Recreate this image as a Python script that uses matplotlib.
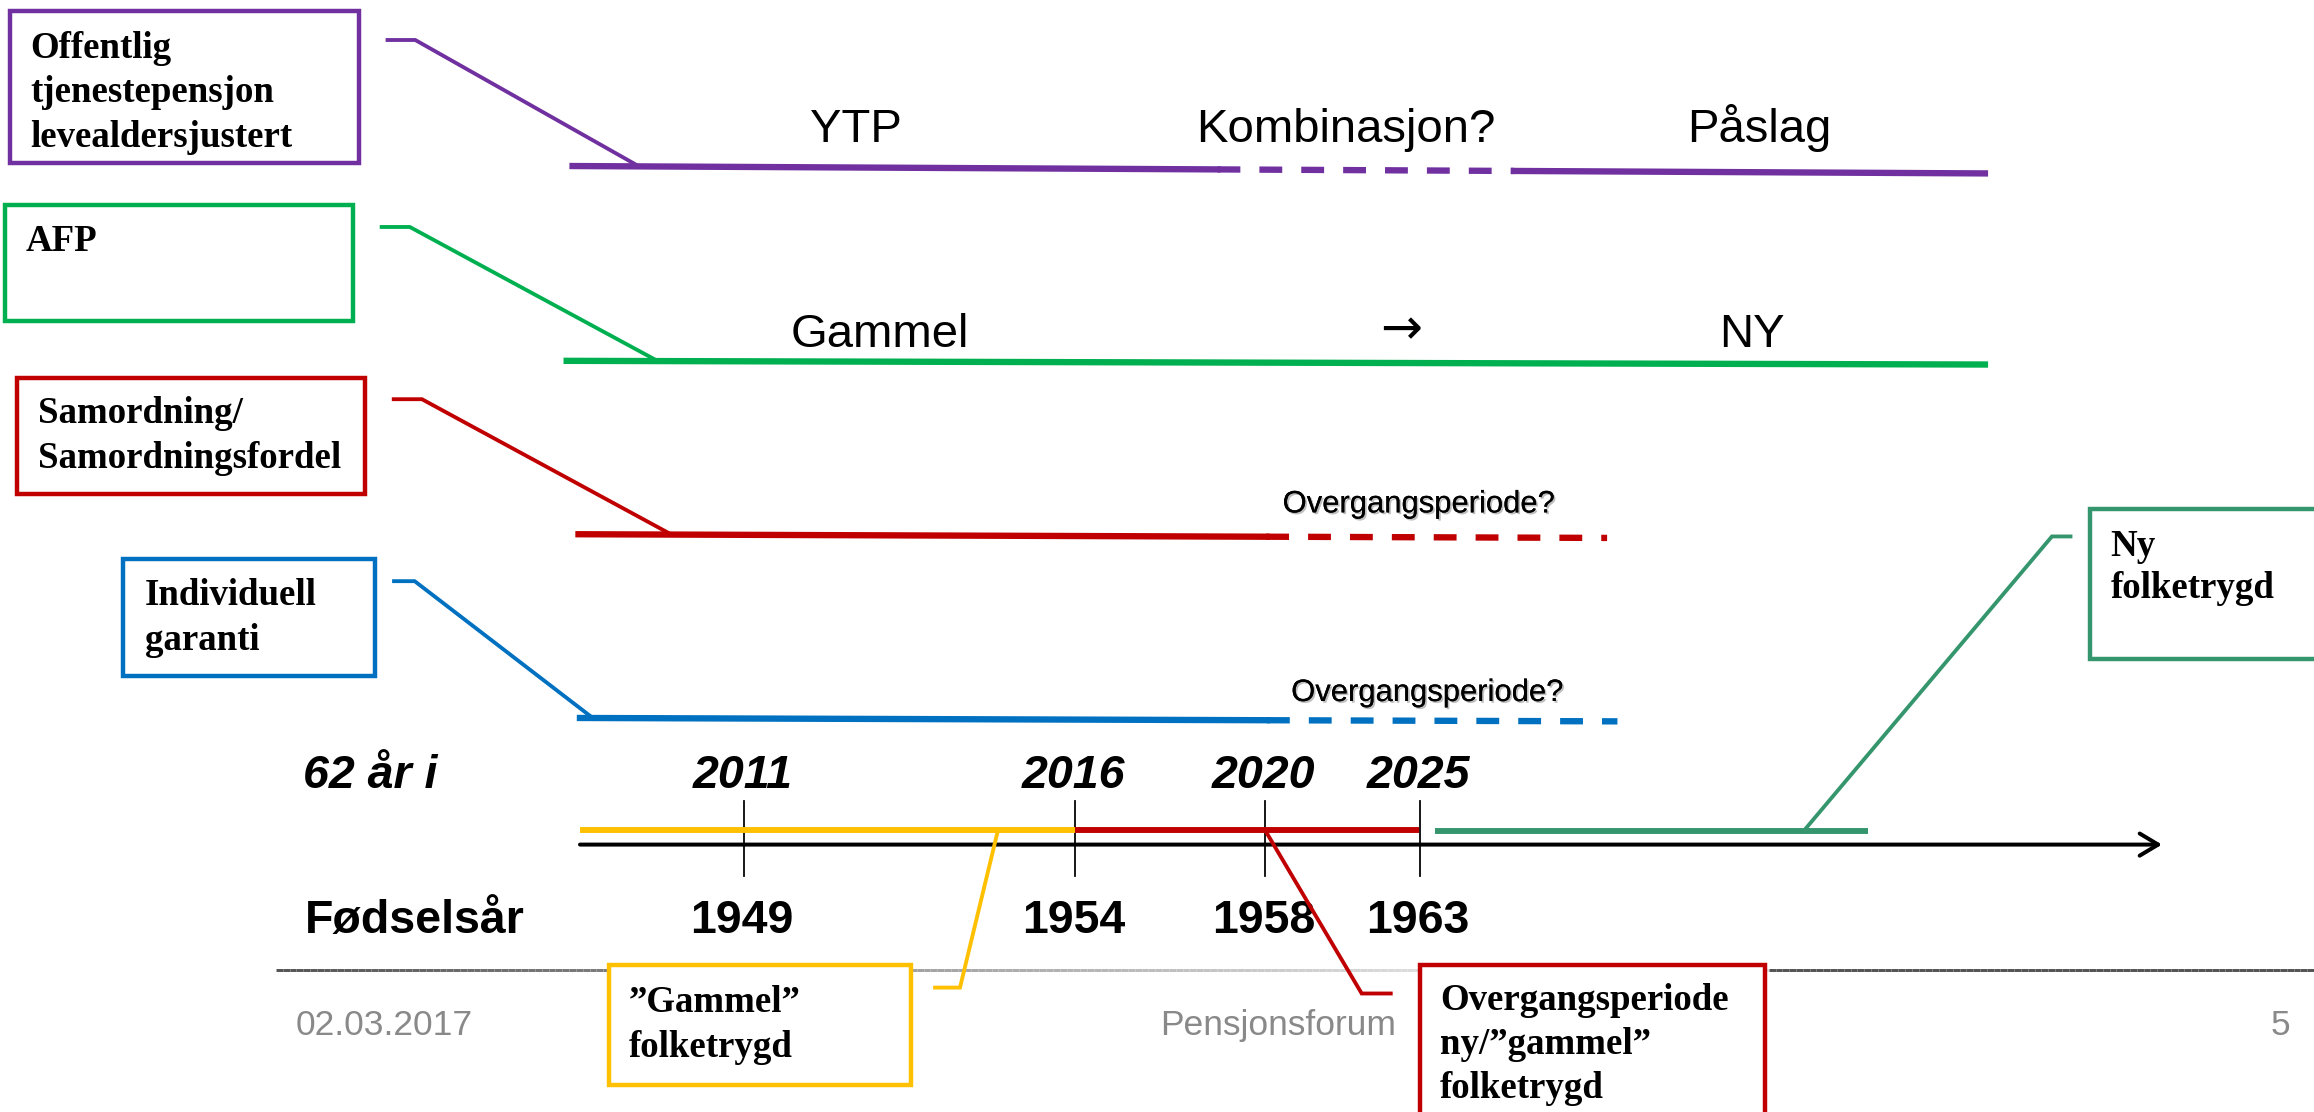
import numpy as np
import matplotlib.pyplot as plt
from matplotlib.patches import Rectangle
from matplotlib.collections import LineCollection
import matplotlib.patheffects as pe

# Ordningene (boksene til venstre)
schemes = ["Offentlig\ntjenestepensjon\nlevealdersjustert", "AFP",
           "Samordning/\nSamordningsfordel", "Individuell\ngaranti"]
ytp_labels = ["YTP", "Kombinasjon?", "Påslag"]
afp_labels = ["Gammel", "→", "NY"]
transition_label = "Overgangsperiode?"

# Tidslinje
age62_label = "62 år i"
age62_years = [2011, 2016, 2020, 2025]
birth_label = "Fødselsår"
birth_years = [1949, 1954, 1958, 1963]
phases = ["”Gammel”\nfolketrygd", "Overgangsperiode\nny/”gammel”\nfolketrygd",
          "Ny\nfolketrygd"]

footer_date = "02.03.2017"
footer_title = "Pensjonsforum"
footer_page = "5"

# Farger
scheme_colors = ["#7030A0", "#00B050", "#C00000", "#0070C0"]
phase_colors = ["#FFC000", "#C00000", "#35966E"]

SANS = ["Liberation Sans", "DejaVu Sans"]
SERIF = ["Liberation Serif", "DejaVu Serif"]

# Figuren: 1 enhet = 1 pt, lysbildet er 1568 x 754 enheter
W, H = 1568, 754
fig = plt.figure(figsize=(W / 72, H / 72), dpi=2314 * 72 / W)
ax = fig.add_axes([0, 0, 1, 1])
ax.set_xlim(0, W)
ax.set_ylim(H, 0)
ax.axis("off")


def box_text(x, y0, text, dy, size=25):
    for i, s in enumerate(text.split("\n")):
        ax.text(x, y0 + i * dy, s, ha="left", va="baseline", fontsize=size,
                fontweight="bold", family=SERIF, zorder=5)


def box(x0, y0, x1, y1, color):
    ax.add_patch(Rectangle((x0, y0), x1 - x0, y1 - y0, facecolor="white",
                           edgecolor=color, lw=3, zorder=4))


def connector(pts, color):
    xs, ys = zip(*pts)
    ax.plot(xs, ys, color=color, lw=2.6, solid_joinstyle="miter", zorder=3)


# ---- rader for ordningene ----
box_rects = [(6.6, 7.9, 243.5, 111), (3.6, 139.4, 239, 218),
             (11.5, 256.4, 247.4, 335.4), (83.6, 379.5, 254, 458.6)]
text_pos = [(20.6, 39.5, 29.9), (17.5, 169.9, 30), (25.7, 286.9, 30.4), (98, 410, 30.5)]
connectors = [[(262.6, 27.6), (281.4, 27.6), (432.6, 113)],
              [(258.6, 154.3), (277.7, 154.3), (446, 245.3)],
              [(266.8, 271), (285.9, 271), (453.7, 362)],
              [(267, 394.3), (281, 394.3), (401, 486.5)]]
# (start, slutt, y start, y slutt, [(fra, til, stiplet)])
row_lines = [(388, 1345, 113, 118, [(388, 825, False), (825, 1026, True), (1026, 1345, False)]),
             (384, 1345, 245, 247.5, [(384, 1345, False)]),
             (392, 1089, 362.5, 365, [(392, 858, False), (858, 1089, True)]),
             (393, 1096, 487, 489.3, [(393, 858.5, False), (858.5, 1096, True)])]

for name, color, rect, tp, conn, rl in zip(schemes, scheme_colors, box_rects,
                                           text_pos, connectors, row_lines):
    box(*rect, color)
    box_text(tp[0], tp[1], name, tp[2])
    connector(conn, color)
    xs, xe, ys, ye, segs = rl
    for a, b, dashed in segs:
        ya, yb = np.interp([a, b], [xs, xe], [ys, ye])
        ax.plot([a, b], [ya, yb], color=color, lw=4.3,
                ls=(0, (3.6, 3.0)) if dashed else "-", zorder=3)

# tekst over linjene
for lab, x in zip(ytp_labels, [580, 912, 1192]):
    ax.text(x, 96, lab, ha="center", va="baseline", fontsize=32, family=SANS)
for lab, x in zip(afp_labels, [596, 949.5, 1187]):
    if lab == "→":
        ax.text(x, 224, lab, ha="center", va="center", fontsize=34,
                family=["DejaVu Sans"])
    else:
        ax.text(x, 235, lab, ha="center", va="baseline", fontsize=32, family=SANS)
shadow = [pe.withSimplePatchShadow(offset=(1.2, -1.2), shadow_rgbFace="0.5", alpha=0.5),
          pe.Normal()]
for x, y in [(961.6, 347.7), (967.4, 475.5)]:
    ax.text(x, y, transition_label, ha="center", va="baseline", fontsize=21,
            family=SANS, path_effects=shadow)

# ---- tidslinje ----
tick_x = [504, 728.4, 857, 962]
ax.annotate("", xy=(1465, 572.8), xytext=(393, 572.8),
            arrowprops=dict(arrowstyle="->,head_length=1.25,head_width=0.75",
                            lw=2.7, color="black", shrinkA=0, shrinkB=0), zorder=2)
for x in tick_x:
    ax.plot([x, x], [543, 594], color="black", lw=1.2, zorder=2)

phase_bars = [(393, 728.4, 563), (728.4, 961.6, 563), (972.5, 1266, 563.8)]
for (a, b, y), color in zip(phase_bars, phase_colors):
    ax.plot([a, b], [y, y], color=color, lw=4, solid_capstyle="butt", zorder=3)

ax.text(205.5, 534, age62_label, ha="left", va="baseline", fontsize=31.5,
        fontweight="bold", fontstyle="italic", family=SANS)
ax.text(206.7, 632, birth_label, ha="left", va="baseline", fontsize=31.5,
        fontweight="bold", family=SANS)
for x, yr, by in zip(tick_x, age62_years, birth_years):
    ax.text(x - 1, 534, str(yr), ha="center", va="baseline", fontsize=31.5,
            fontweight="bold", fontstyle="italic", family=SANS)
    ax.text(x - 1, 632, str(by), ha="center", va="baseline", fontsize=31.5,
            fontweight="bold", family=SANS)

# ---- bokser for folketrygden ----
phase_rects = [(412.8, 654.6, 617.3, 736), (962, 654.6, 1196, 775), (1416, 345.6, 1600, 447)]
phase_text = [(426, 685.5, 30.5), (975.7, 684.4, 29.8), (1430, 377, 28.5)]
phase_conn = [[(633.6, 669.7), (650.5, 669.7), (676, 564)],
              [(942.4, 673.7), (922.7, 673.7), (858.4, 565)],
              [(1403, 364), (1390.4, 364), (1222, 563.8)]]
for name, color, rect, tp, conn in zip(phases, phase_colors, phase_rects,
                                       phase_text, phase_conn):
    box(*rect, color)
    box_text(tp[0], tp[1], name, tp[2])
    connector(conn, color)

# ---- bunntekst ----
gx = np.linspace(187, W, 300)
shade = np.interp(gx, [187, 980, 1196, 1197, W], [0.33, 0.88, 0.88, 0.33, 0.33])
segs = [[(gx[i], 658), (gx[i + 1], 658)] for i in range(len(gx) - 1)]
ax.add_collection(LineCollection(segs, colors=[str(s) for s in shade[:-1]],
                                 lw=2, zorder=1))
ax.text(200, 701, footer_date, ha="left", va="baseline", fontsize=24,
        color="#898989", family=SANS)
ax.text(866, 701, footer_title, ha="center", va="baseline", fontsize=24,
        color="#898989", family=SANS)
ax.text(1545, 701, footer_page, ha="center", va="baseline", fontsize=24,
        color="#898989", family=SANS)

fig.savefig("out.png", dpi=2314 * 72 / W)
